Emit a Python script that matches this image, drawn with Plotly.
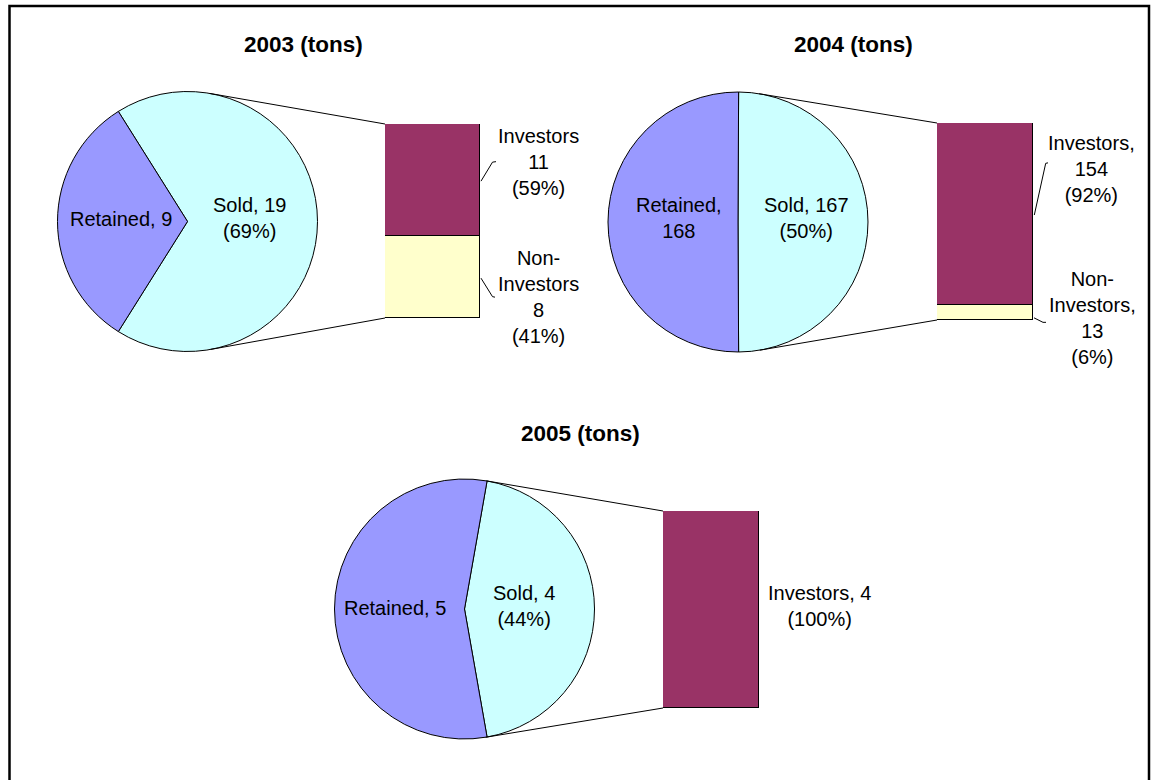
import math
import plotly.graph_objects as go

W, H = 1155, 780

# ---------------- data ----------------
titles = ["2003 (tons)", "2004 (tons)", "2005 (tons)"]
pie_labels = ["Sold", "Retained"]
sold = [19, 167, 4]
retained = [9, 168, 5]
sold_text = ["Sold, 19<br>(69%)", "Sold, 167<br>(50%)", "Sold, 4<br>(44%)"]
retained_text = ["Retained, 9", "Retained,<br>168", "Retained, 5"]
bar_labels = ["Investors", "Non-Investors"]
investors = [11, 154, 4]
non_investors = [8, 13, 0]
investors_text = ["Investors<br>11<br>(59%)", "Investors,<br>154<br>(92%)", "Investors, 4<br>(100%)"]
non_investors_text = ["Non-<br>Investors<br>8<br>(41%)", "Non-<br>Investors,<br>13<br>(6%)", ""]

# ---------------- layout constants (pixels) ----------------
R = 130
pie_centers = [(187.5, 221.5), (738.0, 222.0), (464.5, 609.0)]
bar_boxes = [(385, 124, 480, 318), (937, 123, 1033, 320), (663, 511, 759, 708)]
title_pos = [(303, 44), (853.5, 44), (580, 433)]
# label radial fraction for (sold, retained)
label_frac = [(0.48, 0.515), (0.53, 0.455), (0.46, 0.535)]
label_dy = [(-4, -3), (-4, -4), (-3.5, -1.5)]
# bar label shifts (xshift, yshift) for (investors, non-investors)
bar_shift = [((58, 18.5), (58, -19.5)), ((58, 45), (59, -5.7)), ((60, 3.5), None)]
# leader polylines: pixel offsets (dx right, dy up) from bar right edge at segment middle
leader_pts = [([(1, -1), (12.5, 18), (16, 18.5)], [(1, -1), (12.5, -19.5), (15, -20)]),
              ([(1.3, -1.2), (12.7, 50.5), (15, 51)], [(1, -5.5), (10, -10), (13, -10)]),
              (None, None)]

FONT = "Liberation Sans, Arial, sans-serif"
C_RET = "#9999FF"
C_SOLD = "#CCFFFF"
C_INV = "#993366"
C_NON = "#FFFFCC"


def px2paper(x, y):
    return x / W, 1 - y / H


fig = go.Figure()
shapes = []
annotations = []

for i in range(3):
    cx, cy = pie_centers[i]
    total = sold[i] + retained[i]
    a_sold = 360.0 * sold[i] / total
    rotation = 90 - a_sold / 2
    fig.add_trace(go.Pie(
        labels=pie_labels, values=[sold[i], retained[i]],
        marker=dict(colors=[C_SOLD, C_RET], line=dict(color="black", width=1)),
        sort=False, direction="clockwise", rotation=rotation,
        textinfo="none", hoverinfo="skip", showlegend=False,
        domain=dict(x=[(cx - R) / W, (cx + R) / W],
                    y=[1 - (cy + R) / H, 1 - (cy - R) / H]),
    ))
    # pie labels at slice mid-angles
    mids = [rotation + a_sold / 2, rotation + a_sold + (360 - a_sold) / 2]
    texts = [sold_text[i], retained_text[i]]
    for k in range(2):
        ang = math.radians(mids[k])
        lx = cx + R * label_frac[i][k] * math.sin(ang)
        ly = cy - R * label_frac[i][k] * math.cos(ang) + label_dy[i][k]
        px, py = px2paper(lx, ly)
        annotations.append(dict(x=px, y=py, xref="paper", yref="paper", text=texts[k],
                                showarrow=False, xanchor="center", yanchor="middle",
                                align="center", font=dict(family=FONT, size=20, color="black")))

    # bar
    x0, y0, x1, y1 = bar_boxes[i]
    ax = "" if i == 0 else str(i + 1)
    btotal = investors[i] + non_investors[i]
    fig.update_layout(**{
        f"xaxis{ax}": dict(domain=[x0 / W, x1 / W], range=[-0.5, 0.5], visible=False,
                           fixedrange=True, anchor=f"y{ax}"),
        f"yaxis{ax}": dict(domain=[1 - y1 / H, 1 - y0 / H], range=[0, btotal], visible=False,
                           fixedrange=True, anchor=f"x{ax}"),
    })
    segs = [(non_investors[i], C_NON, bar_labels[1]), (investors[i], C_INV, bar_labels[0])]
    for v, col, nm in segs:
        if v > 0:
            fig.add_trace(go.Bar(x=[0], y=[v], width=1, name=nm,
                                 marker=dict(color=col, line=dict(color="black", width=1)),
                                 xaxis=f"x{ax}", yaxis=f"y{ax}", hoverinfo="skip",
                                 showlegend=False, cliponaxis=False))
    mids_bar = [non_investors[i] + investors[i] / 2, non_investors[i] / 2]
    btexts = [investors_text[i], non_investors_text[i]]
    for k in range(2):
        if not btexts[k]:
            continue
        xs, ys = bar_shift[i][k]
        annotations.append(dict(x=0.5, y=mids_bar[k], xref=f"x{ax}", yref=f"y{ax}",
                                text=btexts[k], showarrow=False, xanchor="center",
                                yanchor="middle", xshift=xs, yshift=ys, align="center",
                                font=dict(family=FONT, size=20, color="black")))
        pts = leader_pts[i][k]
        if pts:
            anc_x = x1
            anc_y = y1 - mids_bar[k] / btotal * (y1 - y0)
            path = ""
            for j, (ddx, ddy) in enumerate(pts):
                qx, qy = px2paper(anc_x + ddx, anc_y - ddy)
                path += ("M" if j == 0 else " L") + f"{qx:.5f},{qy:.5f}"
            shapes.append(dict(type="path", xref="paper", yref="paper", path=path,
                               line=dict(color="black", width=1)))

    # connector lines tangent to pie
    for (pxp, pyp, upper) in [(x0, y0, True), (x0, y1, False)]:
        dx, dy = pxp - cx, pyp - cy
        d = math.hypot(dx, dy)
        a = math.atan2(dy, dx)
        b = math.acos(R / d)
        cands = [(cx + R * math.cos(a + s * b), cy + R * math.sin(a + s * b)) for s in (1, -1)]
        tx, ty = min(cands, key=lambda p: p[1]) if upper else max(cands, key=lambda p: p[1])
        p0 = px2paper(tx, ty)
        p1 = px2paper(pxp, pyp)
        shapes.append(dict(type="line", xref="paper", yref="paper",
                           x0=p0[0], y0=p0[1], x1=p1[0], y1=p1[1],
                           line=dict(color="black", width=1)))

    tx, ty = px2paper(*title_pos[i])
    annotations.append(dict(x=tx, y=ty, xref="paper", yref="paper", text=f"<b>{titles[i]}</b>",
                            showarrow=False, xanchor="center", yanchor="middle",
                            font=dict(family=FONT, size=22.5, color="black")))

# outer frame
f0 = px2paper(9.5, 6)
f1 = px2paper(1149, 800)
shapes.append(dict(type="rect", xref="paper", yref="paper", x0=f0[0], y0=f0[1],
                   x1=f1[0], y1=f1[1], line=dict(color="black", width=2.5),
                   fillcolor="rgba(0,0,0,0)", layer="above"))

fig.update_layout(width=W, height=H, margin=dict(l=0, r=0, t=0, b=0),
                  paper_bgcolor="white", plot_bgcolor="white",
                  barmode="stack", bargap=0, showlegend=False,
                  shapes=shapes, annotations=annotations,
                  font=dict(family=FONT, color="black"))

fig.write_html("out.html")
